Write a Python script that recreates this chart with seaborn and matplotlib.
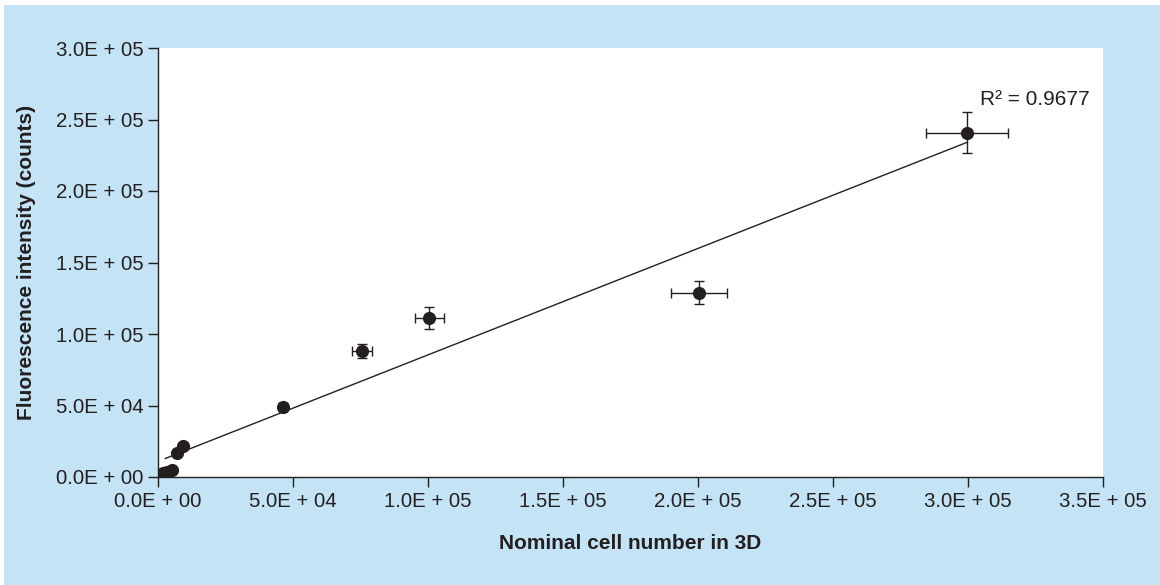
import numpy as np
import pandas as pd
import seaborn as sns
import matplotlib.pyplot as plt
from matplotlib.patches import Rectangle

# === Data
cells = [2.0e3, 3.5e3, 5.0e3, 7.0e3, 9.3e3, 4.63e4, 7.56e4, 1.004e5, 2.004e5, 2.996e5]
fluor = [2.5e3, 3.5e3, 5.0e3, 1.65e4, 2.15e4, 4.9e4, 8.8e4, 1.115e5, 1.29e5, 2.406e5]
cells_err = [0, 0, 0, 0, 0, 1.5e3, 3.7e3, 5.4e3, 1.04e4, 1.52e4]
fluor_err = [0, 0, 0, 0, 0, 1.0e3, 5.0e3, 7.7e3, 8.0e3, 1.43e4]
r2_label = "R\u00b2 = 0.9677"

xticks = np.arange(0, 3.51e5, 5e4)
yticks = np.arange(0, 3.01e5, 5e4)


def sci_label(v):
    m, e = f"{v:.1E}".split("E")
    return f"{m}E + {int(e):02d}"


df = pd.DataFrame({"cells": cells, "fluor": fluor})

# === Style
sns.set_style("ticks")
plt.rcParams["font.family"] = ["Liberation Sans", "DejaVu Sans"]
dark = "#231f20"
blue = "#c4e4f5"

fig = plt.figure(figsize=(11.6, 5.85), dpi=100, facecolor="white")
fig.patches.append(Rectangle((4 / 1160, 0), 1, 580 / 585, transform=fig.transFigure,
                             facecolor=blue, edgecolor="none", zorder=-10))
ax = fig.add_axes([158 / 1160, 1 - 477 / 585, 945 / 1160, 429 / 585])
ax.set_facecolor("white")

# error bars first, then the dots
ax.errorbar(df["cells"], df["fluor"], xerr=cells_err, yerr=fluor_err, fmt="none",
            ecolor=dark, elinewidth=1.0, capsize=3.5, capthick=1.0, zorder=2)
sns.scatterplot(data=df, x="cells", y="fluor", ax=ax, color=dark, s=90,
                edgecolor=dark, linewidth=0, zorder=3)

# linear fit
slope, intercept = np.polyfit(df["cells"], df["fluor"], 1)
xs = np.array([df["cells"].min() + 600, df["cells"].max()])
ax.plot(xs, slope * xs + intercept, color=dark, lw=1.0, zorder=2)

ax.text(0.87, 0.879, r2_label, transform=ax.transAxes, fontsize=15,
        color=dark, ha="left", va="center")

ax.set_xlim(0, 3.5e5)
ax.set_ylim(0, 3.0e5)
ax.set_xticks(xticks)
ax.set_yticks(yticks)
ax.set_xticklabels([sci_label(v) for v in xticks])
ax.set_yticklabels([sci_label(v) for v in yticks])
ax.tick_params(axis="both", direction="out", length=7, width=1.0, color=dark,
               labelsize=14.7, labelcolor=dark, pad=3.5)
for side in ["top", "right"]:
    ax.spines[side].set_visible(False)
for side in ["left", "bottom"]:
    ax.spines[side].set_color(dark)
    ax.spines[side].set_linewidth(1.0)

ax.set_xlabel("Nominal cell number in 3D", fontsize=15, fontweight="bold", color=dark)
ax.set_ylabel("Fluorescence intensity (counts)", fontsize=15, fontweight="bold", color=dark)
ax.xaxis.set_label_coords(0.5, -0.132)
ax.yaxis.set_label_coords(-0.129, 0.5)

fig.savefig("out.png", dpi=100, facecolor=fig.get_facecolor())
